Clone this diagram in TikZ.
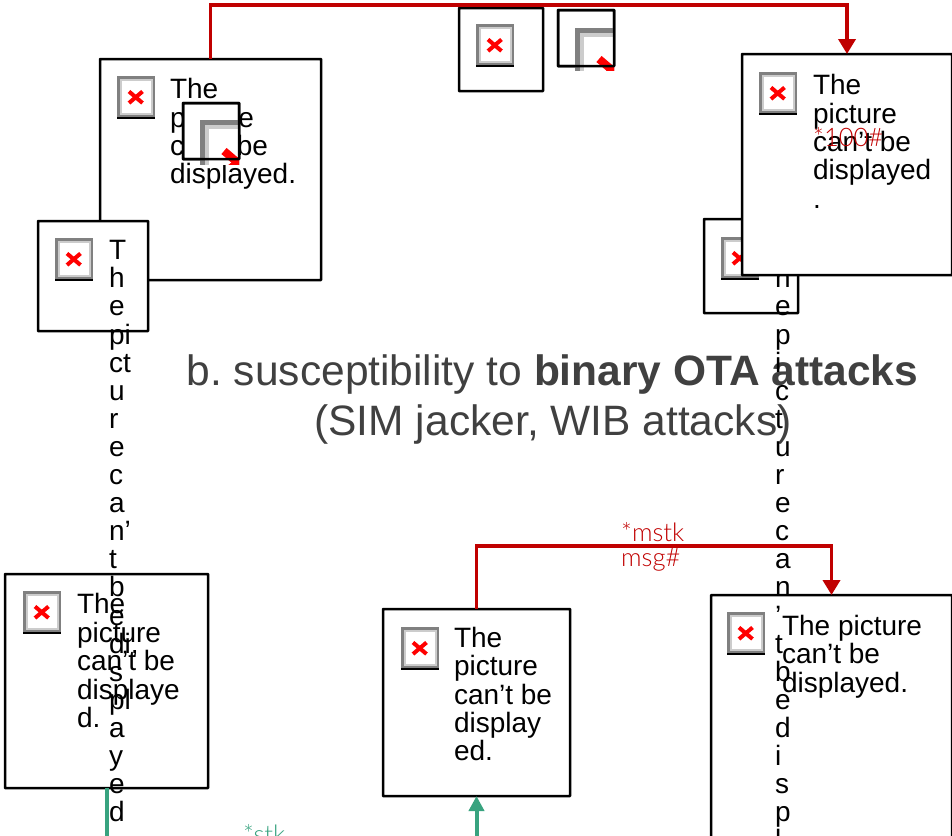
\documentclass[tikz,border=0pt]{standalone}
\usepackage{fontspec}
\setmainfont{Liberation Sans}
\newfontfamily\labelfont[UprightFont=* Light]{Lato}
\usetikzlibrary{arrows.meta}
\definecolor{linkred}{HTML}{C00000}
\definecolor{linkgreen}{HTML}{38A37F}
\definecolor{headgray}{HTML}{404040}
\tikzset{
	framebox/.style={draw=black,line width=2.5pt,fill=white,anchor=north west,inner sep=0pt,outer sep=0pt,rounded corners=0.5pt},
	frameline/.style={draw=black,line width=2.5pt,rounded corners=0.5pt},
	picnote/.style={anchor=north west,align=left,inner sep=0pt,outer sep=0pt,text=black,font=\fontsize{28}{28.4}\selectfont},
	picstack/.style={picnote,font=\fontsize{28}{28.1}\selectfont},
	headline/.style={anchor=base,inner sep=0pt,text=headgray,font=\frenchspacing\fontsize{42.5}{50}\selectfont},
	msglabel/.style={anchor=base west,inner sep=0pt,font=\labelfont\fontsize{25.5}{25.5}\selectfont},
	redlink/.style={draw=linkred,line width=3.7pt,-{Triangle[length=15pt,width=17pt]}},
	greenlink/.style={draw=linkgreen,line width=4pt},
}
% placeholder for the image that failed to load
\newcommand{\brokenicon}[3]{
	\begin{scope}[shift={(#1,#2)},scale=#3]
	\fill[black!50] (0,0) rectangle (38,43);
	\fill[black] (0,40.5) rectangle (38,43);
	\fill[black!20] (2.5,2.5) rectangle (36,39);
	\fill[white] (4.5,4.5) rectangle (34,37);
	\draw[red,line width=4pt*#3] (12,15.5) -- (25.5,27);
	\draw[red,line width=4pt*#3] (12,27) -- (25.5,15.5);
	\end{scope}
}
\begin{document}
\begin{tikzpicture}[x=1pt,y=-1pt]
	\clip (0,0) rectangle (952,835);
	
	% upper left box
	\node[framebox,minimum width=221pt,minimum height=221pt] (senderbox) at (100,59) {};
	\brokenicon{117}{76}{1}
	\node[picnote] (sendertext) at (170,78.5) {The\\picture\\can’t be\\displayed.};
	
	\node[framebox,minimum width=56pt,minimum height=56pt] (sendersim) at (183,103) {};
	\begin{scope}
	\clip (200,120) rectangle (239,164);
	\brokenicon{200}{120}{2}
	\end{scope}
	\draw[frameline] (sendersim.north west) rectangle (sendersim.south east);
	
	\node[framebox,minimum width=110pt,minimum height=110pt] (phonebox) at (38,221) {};
	\brokenicon{55}{238}{1}
	
	% top middle
	\node[framebox,minimum width=84pt,minimum height=83pt] (middlebox) at (459,8) {};
	\brokenicon{476}{24}{1}
	
	\node[framebox,minimum width=56pt,minimum height=56pt] (middlesim) at (558,10) {};
	\begin{scope}
	\clip (575,28) rectangle (614,70);
	\brokenicon{575}{28}{2}
	\end{scope}
	\draw[frameline] (middlesim.north west) rectangle (middlesim.south east);
	
	% upper right box
	\node[framebox,minimum width=94pt,minimum height=94pt] (targetbox) at (704,219) {};
	\brokenicon{721}{237}{1}
	
	% title
	\node[headline] (titleone) at (552.5,385) {b. susceptibility to \textbf{binary OTA attacks}};
	\node[headline] (titletwo) at (553,435) {(SIM jacker, WIB attacks)};
	
	% lower row
	\node[framebox,minimum width=203pt,minimum height=214pt] (stkbox) at (5,574) {};
	\brokenicon{23}{591}{1}
	\node[picnote] (stktext) at (77,593.5) {The\\picture\\can’t be\\displaye\\d.};
	
	\node[framebox,minimum width=187pt,minimum height=187pt] (mstkbox) at (383,609) {};
	\brokenicon{401}{627}{1}
	\node[picnote] (mstktext) at (454,627) {The\\picture\\can’t be\\display\\ed.};
	
	\node[framebox,minimum width=241pt,minimum height=260pt] (replybox) at (711,595) {};
	\brokenicon{727}{612}{1}
	\node[picnote] (replytext) at (782,615) {The picture\\can’t be\\displayed.};
	
	\node[picstack] (targetstack) at (775,240.5) {T\\h\\e\\p\\i\\c\\t\\u\\r\\e\\c\\a\\n\\’\\t\\b\\e\\d\\i\\s\\p\\l};
	
	\node[framebox,minimum width=210pt,minimum height=221pt] (targetsim) at (742,54) {};
	\brokenicon{759}{72}{1}
	\node[picnote] (targettext) at (813,74.5) {The\\picture\\can’t be\\displayed\\.};
	\node[msglabel,text=linkred] (codelabel) at (813,146) {*100\#};
	
	\node[picstack] (phonestack) at (109,240.5) {T\\h\\e\\pi\\ct\\u\\r\\e\\c\\a\\n’\\t\\b\\e\\di,\\s\\pl\\a\\y\\e\\d};
	
	% connectors
	\coordinate (topturn) at (847,5);
	\coordinate (lowturn) at (831.5,546);
	\coordinate (greenend) at (106.5,850);
	\coordinate (greenstart) at (476.5,850);
	
	\draw[redlink] (senderbox.north) |- (topturn) -- (targetsim.north);
	\draw[redlink] (mstkbox.north) |- (lowturn) -- (replybox.north);
	\draw[greenlink] (stkbox.south) -- (greenend);
	\draw[greenlink,-{Triangle[length=15pt,width=15pt]}] (greenstart) -- (mstkbox.south);
	
	\node[msglabel,text=linkred] (mstklabel) at (621,541) {*mstk};
	\node[msglabel,text=linkred] (msglabel) at (621,566) {msg\#};
	\node[msglabel,text=linkgreen] (stklabel) at (243,843) {*stk};
\end{tikzpicture}
\end{document}
